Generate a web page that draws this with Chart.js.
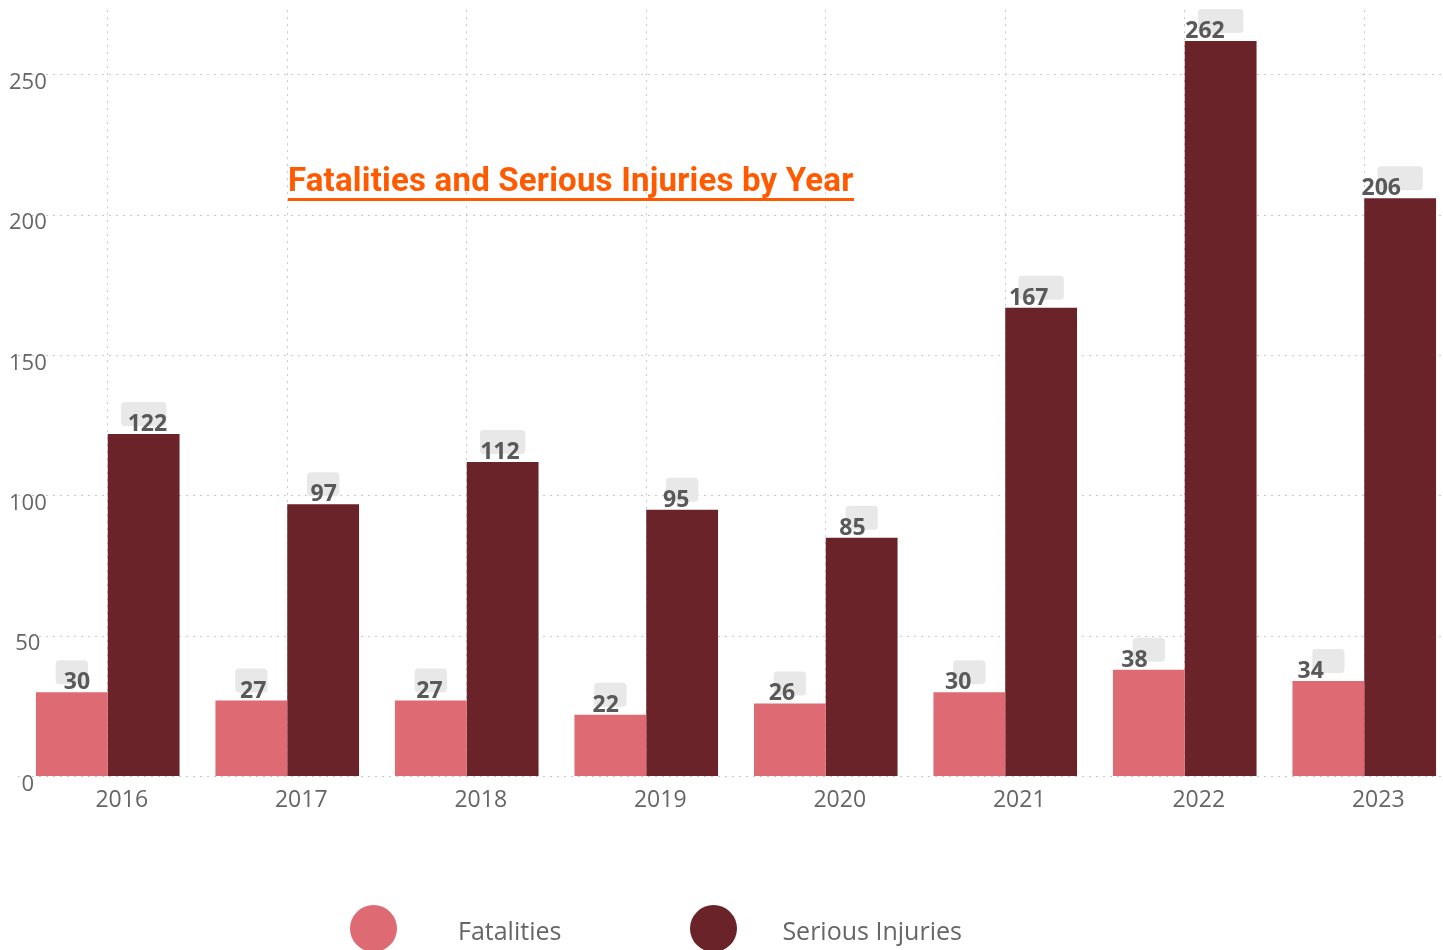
<!DOCTYPE html>
<html>
<head>
<meta charset="utf-8">
<title>Fatalities and Serious Injuries by Year</title>
<script src="https://cdn.jsdelivr.net/npm/chart.js@4.4.0/dist/chart.umd.min.js"></script>
<style>
  html, body { margin: 0; padding: 0; background: #fff; overflow: hidden; }
  #chart_wrap { position: relative; width: 1460px; height: 950px; }
  #chart_title {
    position: absolute; left: 288px; top: 163px;
    font: bold 33px Roboto, sans-serif; letter-spacing: 0.2px; line-height: 33px;
    color: #ff5a00; padding-bottom: 2px; border-bottom: 3px solid #ff5a00;
    white-space: nowrap;
  }
  #legend_container { position: absolute; left: 350px; top: 905px; }
  #legend_container ul { list-style: none; margin: 0; padding: 0; display: flex; }
  #legend_container li { display: flex; align-items: center; height: 47px; margin-right: 129px; }
  .legend_dot { display: block; width: 47px; height: 47px; border-radius: 50%; margin-right: 61px; }
  #legend_container li:nth-child(2) .legend_dot { margin-right: 45px; }
  .legend_text { font: 25px "Open Sans", sans-serif; color: #666; line-height: 47px; padding-top: 4px; }
</style>
</head>
<body>
<div id="chart_wrap">
  <canvas id="barChart"></canvas>
  <div id="chart_title">Fatalities and Serious Injuries by Year</div>
  <div id="legend_container"></div>
</div>
<script>
"use strict";
const years = ["2016", "2017", "2018", "2019", "2020", "2021", "2022", "2023"];
const fatalities = [30, 27, 27, 22, 26, 30, 38, 34];
const seriousInjuries = [122, 97, 112, 95, 85, 167, 262, 206];
const yTicks = [0, 50, 100, 150, 200, 250];

// grey pill + bold number above each bar
const barLabelPlugin = {
  id: "barLabels",
  afterDatasetsDraw(chart) {
    const { ctx, chartArea } = chart;
    ctx.save();
    ctx.font = "bold 23px 'Open Sans'";
    chart.data.datasets.forEach((dataset, i) => {
      const meta = chart.getDatasetMeta(i);
      meta.data.forEach((bar, index) => {
        const text = String(dataset.data[index]);
        const boxWidth = ctx.measureText(text).width + 6;
        ctx.fillStyle = "#e8e8e8";
        ctx.beginPath();
        ctx.roundRect(bar.x - boxWidth / 2, bar.y - 32, boxWidth, 24, 4);
        ctx.fill();
        // the numbers sit a little off the pill, drifting left across the plot
        const drift = (bar.x - chartArea.left) * 0.018;
        ctx.fillStyle = "#595959";
        ctx.textAlign = "center";
        ctx.textBaseline = "alphabetic";
        ctx.fillText(text, bar.x + 6 - drift, bar.y - 3);
      });
    });
    ctx.restore();
  },
};

const htmlLegendPlugin = {
  id: "htmlLegend",
  afterUpdate(chart) {
    const container = document.getElementById("legend_container");
    container.innerHTML = "";
    const ul = document.createElement("ul");
    const items = chart.options.plugins.legend.labels.generateLabels(chart);
    items.forEach((item) => {
      const li = document.createElement("li");
      const dot = document.createElement("span");
      dot.className = "legend_dot";
      dot.style.background = item.fillStyle;
      const label = document.createElement("span");
      label.className = "legend_text";
      label.textContent = item.text;
      li.appendChild(dot);
      li.appendChild(label);
      ul.appendChild(li);
    });
    container.appendChild(ul);
  },
};

const ctx = document.getElementById("barChart");
const barChart = new Chart(ctx, {
  type: "bar",
  data: {
    labels: years,
    datasets: [
      {
        label: "Fatalities",
        backgroundColor: "#de6a73",
        data: fatalities,
      },
      {
        label: "Serious Injuries",
        backgroundColor: "#6a2328",
        data: seriousInjuries,
      },
    ],
  },
  options: {
    responsive: true,
    maintainAspectRatio: false,
    animation: false,
    datasets: {
      bar: { categoryPercentage: 0.8, barPercentage: 1 },
    },
    layout: {
      padding: { left: 18, right: 6, top: 10, bottom: 126 },
    },
    plugins: {
      legend: { display: false },
      tooltip: { enabled: false },
    },
    scales: {
      x: {
        grid: { offset: false, drawTicks: false, color: "#c8c8c8" },
        border: { display: false, dash: [2, 5] },
        ticks: {
          color: "#666",
          font: { family: "Open Sans", size: 23 },
          padding: 10,
          labelOffset: 14,
          maxRotation: 0,
        },
      },
      y: {
        min: 0,
        max: 273,
        afterBuildTicks: (axis) => {
          axis.ticks = yTicks.map((v) => ({ value: v }));
        },
        grid: { drawTicks: false, color: "#c8c8c8" },
        border: { display: false, dash: [2, 5] },
        ticks: {
          mirror: true,
          crossAlign: "center",
          padding: -3,
          labelOffset: 8,
          color: "#666",
          font: { family: "Open Sans", size: 22 },
        },
      },
    },
  },
  plugins: [barLabelPlugin, htmlLegendPlugin],
});
</script>
</body>
</html>
